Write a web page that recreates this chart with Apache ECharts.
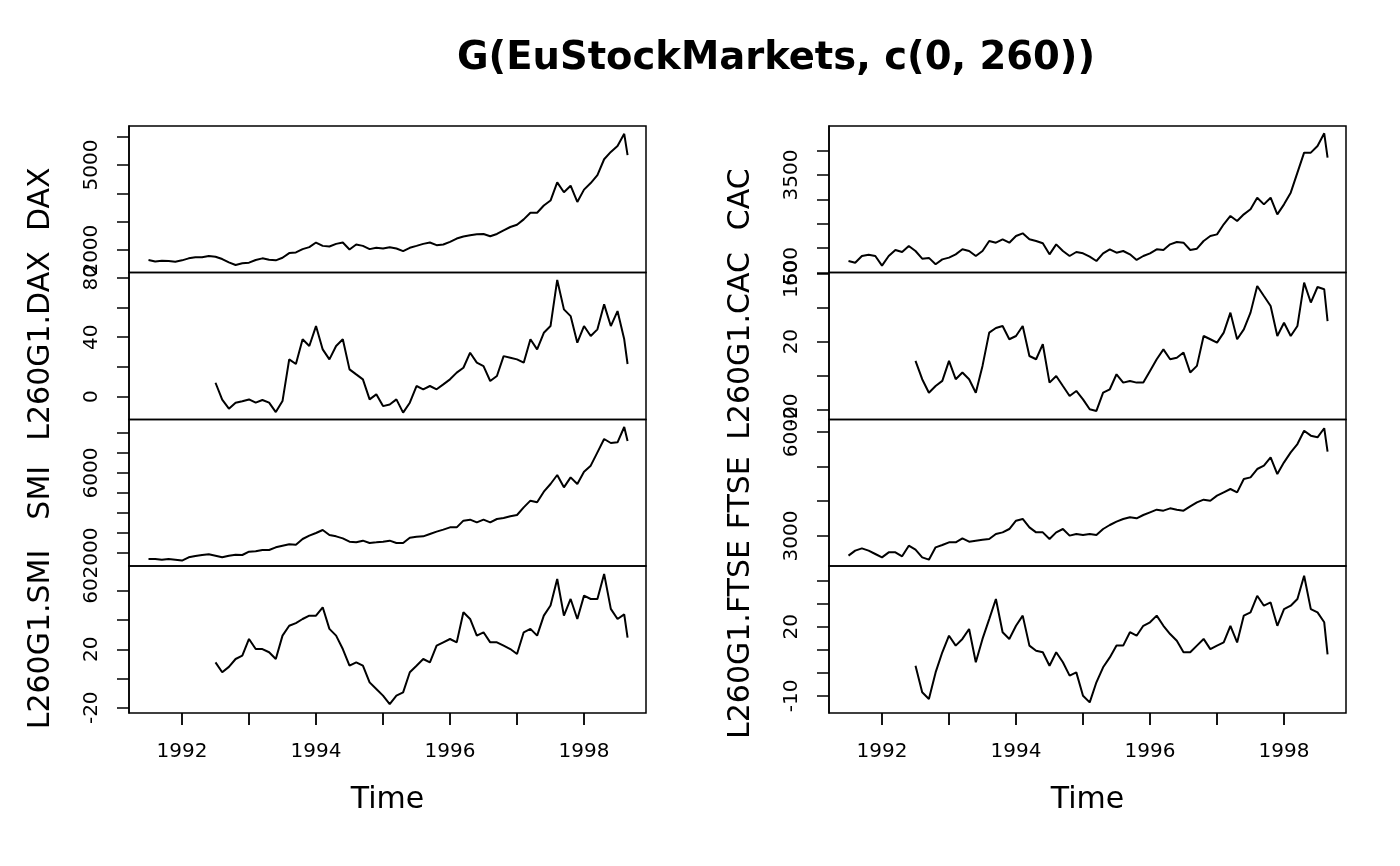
<!DOCTYPE html>
<html>
<head>
<meta charset="utf-8">
<title>G(EuStockMarkets, c(0, 260))</title>
<script src="https://cdn.jsdelivr.net/npm/echarts@6/dist/echarts.min.js"></script>
<style>
  html, body { margin: 0; padding: 0; background: #fff; }
  #chart { width: 1400px; height: 866px; }
</style>
</head>
<body>
<div id="chart"></div>
<script>
// time grid (years), level series start 1991.5, growth series start one year later
const levelTime = [
  1991.5, 1991.6, 1991.7, 1991.8, 1991.9,
  1992.0, 1992.1, 1992.2, 1992.3, 1992.4, 1992.5, 1992.6, 1992.7, 1992.8, 1992.9,
  1993.0, 1993.1, 1993.2, 1993.3, 1993.4, 1993.5, 1993.6, 1993.7, 1993.8, 1993.9,
  1994.0, 1994.1, 1994.2, 1994.3, 1994.4, 1994.5, 1994.6, 1994.7, 1994.8, 1994.9,
  1995.0, 1995.1, 1995.2, 1995.3, 1995.4, 1995.5, 1995.6, 1995.7, 1995.8, 1995.9,
  1996.0, 1996.1, 1996.2, 1996.3, 1996.4, 1996.5, 1996.6, 1996.7, 1996.8, 1996.9,
  1997.0, 1997.1, 1997.2, 1997.3, 1997.4, 1997.5, 1997.6, 1997.7, 1997.8, 1997.9,
  1998.0, 1998.1, 1998.2, 1998.3, 1998.4, 1998.5, 1998.6, 1998.65
]
const growthTime = [
  1992.5, 1992.6, 1992.7, 1992.8, 1992.9,
  1993.0, 1993.1, 1993.2, 1993.3, 1993.4, 1993.5, 1993.6, 1993.7, 1993.8, 1993.9,
  1994.0, 1994.1, 1994.2, 1994.3, 1994.4, 1994.5, 1994.6, 1994.7, 1994.8, 1994.9,
  1995.0, 1995.1, 1995.2, 1995.3, 1995.4, 1995.5, 1995.6, 1995.7, 1995.8, 1995.9,
  1996.0, 1996.1, 1996.2, 1996.3, 1996.4, 1996.5, 1996.6, 1996.7, 1996.8, 1996.9,
  1997.0, 1997.1, 1997.2, 1997.3, 1997.4, 1997.5, 1997.6, 1997.7, 1997.8, 1997.9,
  1998.0, 1998.1, 1998.2, 1998.3, 1998.4, 1998.5, 1998.6, 1998.65
]

const dax = [
  1650, 1600, 1627, 1615, 1590,
  1640, 1710, 1745, 1745, 1790, 1767, 1685, 1570, 1475, 1534,
  1557, 1650, 1710, 1660, 1640, 1730, 1895, 1918, 2035, 2105,
  2268, 2150, 2128, 2221, 2268, 2023, 2198, 2150, 2035, 2082,
  2058, 2105, 2058, 1965, 2082, 2150, 2221, 2268, 2175, 2198,
  2291, 2408, 2478, 2524, 2560, 2571, 2490, 2571, 2699, 2816,
  2897, 3084, 3317, 3317, 3573, 3748, 4389, 4040, 4273, 3700,
  4133, 4366, 4646, 5205, 5462, 5671, 6100, 5350
]
const daxGrowth = [
  9.4, -2, -8, -4, -3,
  -1.8, -4, -2.2, -4, -10.3, -2.9, 25.1, 22, 38.6, 34.1,
  47.5, 31.8, 25.1, 34.1, 38.6, 18.4, 15, 11.7, -1.8, 1.6,
  -6.3, -5.2, -1.8, -10.7, -4, 7.2, 5, 7.2, 5, 8.3,
  11.7, 16.2, 19.5, 29.6, 22.9, 20.6, 10.6, 13.9, 27.3, 26.2,
  25.1, 22.9, 38.6, 31.8, 43, 47.5, 78.5, 58.7, 54.2, 36.3,
  47.5, 40.8, 45.3, 62.1, 47.5, 57.6, 38.6, 22
]
const smi = [
  1700, 1700, 1667, 1700, 1667,
  1620, 1783, 1850, 1900, 1933, 1867, 1783, 1867, 1917, 1900,
  2067, 2083, 2150, 2150, 2283, 2367, 2433, 2417, 2700, 2867,
  3000, 3150, 2900, 2833, 2733, 2567, 2533, 2617, 2500, 2533,
  2567, 2617, 2500, 2500, 2767, 2817, 2833, 2950, 3067, 3167,
  3283, 3283, 3617, 3667, 3533, 3667, 3533, 3700, 3750, 3833,
  3900, 4283, 4617, 4533, 5067, 5450, 5900, 5283, 5783, 5450,
  6067, 6367, 7033, 7700, 7500, 7533, 8300, 7600
]
const smiGrowth = [
  11.1, 4.3, 8, 13.4, 15.7,
  27.1, 20.2, 20.2, 18, 13.4, 29.4, 36.2, 38, 40.8, 43.1,
  43.1, 48.8, 34, 29.4, 20.2, 8.8, 11.1, 8.8, -2.6, -7.2,
  -11.7, -17.5, -11.7, -9.5, 4.3, 8.8, 13.4, 11.1, 22.5, 24.8,
  27.1, 24.8, 45.4, 40.8, 29.4, 31.7, 24.8, 24.8, 22.5, 20.2,
  16.8, 31.7, 34, 29.4, 43.1, 50, 68.2, 43.1, 54.5, 40.8,
  56.8, 54.5, 54.5, 71.7, 47.7, 40.8, 44, 28
]
const cac = [
  1736, 1700, 1839, 1866, 1839,
  1640, 1839, 1962, 1921, 2044, 1941, 1784, 1800, 1668, 1770,
  1805, 1873, 1976, 1941, 1839, 1941, 2147, 2112, 2181, 2112,
  2249, 2304, 2181, 2147, 2099, 1873, 2078, 1941, 1839, 1921,
  1893, 1825, 1736, 1893, 1976, 1907, 1941, 1873, 1757, 1839,
  1893, 1976, 1962, 2078, 2126, 2112, 1962, 1989, 2147, 2249,
  2283, 2489, 2660, 2557, 2694, 2797, 3036, 2899, 3036, 2694,
  2899, 3139, 3549, 3960, 3960, 4097, 4357, 3857
]
const cacGrowth = [
  8.7, -2, -9.9, -6, -3,
  8.7, -2, 1.9, -2, -9.9, 5.8, 25.3, 28, 29.2, 21.4,
  23.3, 29.2, 11.6, 9.7, 18.5, -4, -0.1, -6, -11.8, -8.9,
  -13.8, -19.6, -20.6, -9.9, -7.9, 0.9, -4, -3, -4, -4,
  2.8, 9.7, 15.5, 9.7, 10.6, 13.6, 1.9, 5.8, 23.3, 21.4,
  19.4, 25.3, 37, 21.4, 27.2, 37, 52.6, 46.7, 40.9, 23.3,
  31.1, 23.3, 29.2, 54.6, 42.9, 52, 50.7, 32
]
const ftse = [
  2434, 2578, 2645, 2578, 2482,
  2386, 2530, 2530, 2415, 2722, 2607, 2386, 2319, 2674, 2741,
  2818, 2818, 2933, 2837, 2866, 2895, 2914, 3058, 3105, 3201,
  3441, 3489, 3249, 3105, 3105, 2914, 3105, 3201, 3010, 3058,
  3029, 3058, 3029, 3201, 3316, 3412, 3489, 3537, 3508, 3604,
  3681, 3757, 3729, 3796, 3757, 3729, 3853, 3968, 4045, 4016,
  4160, 4256, 4352, 4256, 4639, 4687, 4927, 5023, 5263, 4783,
  5119, 5406, 5646, 6029, 5886, 5838, 6100, 5426
]
const ftseGrowth = [
  3.1, -8.4, -11.3, 0.2, 8.9,
  16.1, 11.8, 14.7, 19, 4.6, 14.7, 23.3, 32, 17.6, 14.7,
  20.4, 24.8, 11.8, 9.6, 8.9, 3.1, 8.9, 4.6, -1.2, 0.2,
  -9.9, -12.8, -4.1, 2.4, 6.7, 11.8, 11.8, 17.6, 16.1, 20.4,
  21.9, 24.8, 20.4, 16.8, 13.9, 8.9, 8.9, 11.8, 14.7, 10.3,
  11.8, 13.2, 20.4, 13.2, 24.8, 26.2, 33.4, 29.1, 30.5, 20.4,
  27.6, 29.1, 32, 42.1, 27.6, 26.2, 21.9, 8
]

const yearTicks = [1992, 1993, 1994, 1995, 1996, 1997, 1998]
const yearLabels = [1992, 1994, 1996, 1998]

// one entry per panel, column by column, top to bottom
const panels = [
  {name: 'DAX', time: levelTime, values: dax, min: 1211, max: 6377,
    ticks: [2000, 3000, 4000, 5000, 6000], labels: [2000, 5000]},
  {name: 'L260G1.DAX', time: growthTime, values: daxGrowth, min: -15.3, max: 83.5,
    ticks: [0, 20, 40, 60, 80], labels: [0, 40, 80]},
  {name: 'SMI', time: levelTime, values: smi, min: 1350, max: 8675,
    ticks: [2000, 3000, 4000, 5000, 6000, 7000, 8000], labels: [2000, 6000]},
  {name: 'L260G1.SMI', time: growthTime, values: smiGrowth, min: -23.6, max: 77.1,
    ticks: [-20, 0, 20, 40, 60], labels: [-20, 20, 60]},
  {name: 'CAC', time: levelTime, values: cac, min: 1500, max: 4507,
    ticks: [1500, 2000, 2500, 3000, 3500, 4000], labels: [1500, 3500]},
  {name: 'L260G1.CAC', time: growthTime, values: cacGrowth, min: -25.6, max: 60.5,
    ticks: [-20, 0, 20, 40, 60], labels: [-20, 20, 60]},
  {name: 'FTSE', time: levelTime, values: ftse, min: 2137, max: 6351,
    ticks: [3000, 4000, 5000, 6000], labels: [3000, 6000]},
  {name: 'L260G1.FTSE', time: growthTime, values: ftseGrowth, min: -17.4, max: 46.3,
    ticks: [-10, 0, 10, 20, 30, 40], labels: [-10, 20]},
]

const FONT = 'DejaVu Sans'
const X_MIN = 1991.209
const X_MAX = 1998.925
const colLeft = [129, 829]
const rowTop = [126, 272.5, 419.5, 566]
const rowHeight = [146.5, 147, 146.5, 147]

const grids = []
const xAxes = []
const yAxes = []
const series = []

panels.forEach((p, i) => {
    const col = Math.floor(i / 4)
    const row = i % 4
    const bottom = row === 3
    grids.push({
        left: colLeft[col],
        top: rowTop[row],
        width: 517,
        height: rowHeight[row],
        show: true,
        borderColor: '#000',
        borderWidth: 1.5,
        backgroundColor: 'transparent',
    })
    xAxes.push({
        type: 'value',
        gridIndex: i,
        position: 'bottom',
        min: X_MIN,
        max: X_MAX,
        show: bottom,
        z: 10,
        name: bottom ? 'Time' : '',
        nameLocation: 'middle',
        nameGap: 72,
        nameTextStyle: {fontFamily: FONT, fontSize: 30, color: '#000'},
        axisLine: {show: false, onZero: false},
        splitLine: {show: false},
        axisTick: {
            show: true,
            inside: false,
            length: 12,
            customValues: yearTicks,
            lineStyle: {color: '#000', width: 1.5},
        },
        axisLabel: {
            customValues: yearLabels,
            margin: 29,
            fontFamily: FONT,
            fontSize: 20,
            color: '#000',
            formatter: v => String(v),
        },
    })
    yAxes.push({
        type: 'value',
        gridIndex: i,
        position: 'left',
        min: p.min,
        max: p.max,
        name: p.name,
        nameLocation: 'middle',
        nameGap: 73,
        nameTextStyle: {fontFamily: FONT, fontSize: 30, color: '#000'},
        axisLine: {show: true, onZero: false, lineStyle: {color: '#000', width: 1.5}},
        splitLine: {show: false},
        axisTick: {
            show: true,
            length: 12,
            customValues: p.ticks,
            lineStyle: {color: '#000', width: 1.5},
        },
        axisLabel: {
            customValues: p.labels,
            rotate: 90,
            margin: 27,
            fontFamily: FONT,
            fontSize: 20,
            color: '#000',
            formatter: v => String(v),
        },
    })
    series.push({
        name: p.name,
        type: 'line',
        xAxisIndex: i,
        yAxisIndex: i,
        data: p.time.map((t, k) => [t, p.values[k]]),
        symbol: 'none',
        lineStyle: {color: '#000', width: 2},
        clip: true,
    })
})

// a thin strip under each column holds the year ticks, placed through its x scale
colLeft.forEach(left => {
    const g = grids.length
    grids.push({left: left, top: 713, width: 517, height: 12, show: false})
    xAxes.push({type: 'value', gridIndex: g, min: X_MIN, max: X_MAX, show: false})
    yAxes.push({type: 'value', gridIndex: g, min: 0, max: 1, show: false})
    series.push({
        type: 'scatter',
        xAxisIndex: g,
        yAxisIndex: g,
        z: 20,
        silent: true,
        clip: false,
        symbol: 'rect',
        symbolSize: [1.6, 12],
        itemStyle: {color: '#000'},
        data: yearTicks.map(t => [t, 0.5]),
    })
})

const chart = echarts.init(document.getElementById('chart'))
chart.setOption({
    animation: false,
    backgroundColor: '#fff',
    title: {
        text: 'G(EuStockMarkets, c(0, 260))',
        left: 771,
        top: 34,
        textAlign: 'center',
        textStyle: {fontFamily: FONT, fontSize: 38.5, fontWeight: 'bold', color: '#000'},
    },
    grid: grids,
    xAxis: xAxes,
    yAxis: yAxes,
    series: series,
})
</script>
</body>
</html>
